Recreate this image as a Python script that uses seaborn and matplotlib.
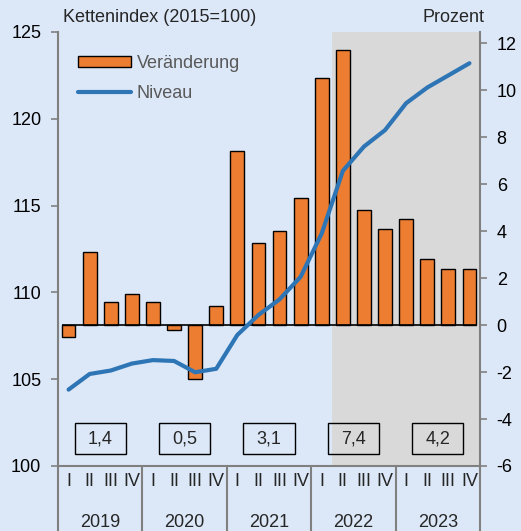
import matplotlib
matplotlib.use('Agg')
import matplotlib.pyplot as plt
import matplotlib.transforms as mtransforms
from matplotlib.patches import Rectangle, Patch
from matplotlib.lines import Line2D
import seaborn as sns
import pandas as pd

years = ['2019', '2020', '2021', '2022', '2023']
quarters = ['I', 'II', 'III', 'IV']
# Veränderung gegenüber Vorjahresquartal in Prozent (rechte Achse)
veraenderung = [-0.5, 3.1, 1.0, 1.3, 1.0, -0.2, -2.3, 0.8, 7.4, 3.5,
                4.0, 5.4, 10.5, 11.7, 4.9, 4.1, 4.5, 2.8, 2.4, 2.4]
# Kettenindex 2015=100 (linke Achse)
niveau = [104.4, 105.3, 105.5, 105.9, 106.1, 106.05, 105.4, 105.6, 107.55, 108.7,
          109.6, 110.9, 113.4, 117.0, 118.4, 119.35, 120.9, 121.8, 122.5, 123.2]
jahresraten = ['1,4', '0,5', '3,1', '7,4', '4,2']

BG = '#DCE8F8'
ORANGE = '#ED7D31'
BLUE = '#2E75B6'
GREY = '#808080'
FS = 13
NARROW = ['Liberation Sans Narrow', 'Liberation Sans', 'DejaVu Sans']

sns.set_theme(style='white')
plt.rcParams['font.family'] = ['Liberation Sans', 'DejaVu Sans']
plt.rcParams['axes.unicode_minus'] = False

df = pd.DataFrame({
    'pos': range(len(veraenderung)),
    'veraenderung': veraenderung,
    'niveau': niveau,
})

fig = plt.figure(figsize=(5.21, 5.31), dpi=100, facecolor=BG)
ax = fig.add_axes([58 / 521, 65 / 531, 422 / 521, 434 / 531], facecolor=BG)
ax2 = ax.twinx()

# shaded area 2022/2023
ax.axvspan(12.5, 19.5, color='#D9D9D9', zorder=0, lw=0)

sns.barplot(data=df, x='pos', y='veraenderung', ax=ax, color=ORANGE,
            saturation=1, edgecolor='black', linewidth=1, width=0.65, zorder=2)
ax.hlines(0, -0.33, 19.33, color='black', lw=1.2, zorder=3)

sns.lineplot(data=df, x='pos', y='niveau', ax=ax2, color=BLUE, linewidth=3)

ax.set_xlim(-0.5, 19.5)
ax.set_ylim(-6, 12.47)
ax2.set_ylim(100, 125)
ax.set_xticks([])
ax2.set_xticks([])
ax.set_xlabel('')
ax.set_ylabel('')
ax2.set_xlabel('')
ax2.set_ylabel('')

# right axis: percent, left axis: index
ax.yaxis.tick_right()
ax.set_yticks(range(-6, 13, 2))
ax.tick_params(axis='y', right=True, left=False, length=5, width=1.2, color=GREY,
               labelsize=FS, pad=7, labelcolor='black')
ax2.yaxis.tick_left()
ax2.set_yticks(range(100, 126, 5))
ax2.tick_params(axis='y', left=True, right=False, length=5, width=1.2, color=GREY,
                labelsize=FS, pad=7, labelcolor='black')

for s in ax2.spines.values():
    s.set_visible(False)
ax.spines['top'].set_visible(False)
for side in ['left', 'right', 'bottom']:
    ax.spines[side].set_color(GREY)
    ax.spines[side].set_linewidth(1.5)

# annual rates boxes
for i, txt in enumerate(jahresraten):
    xc = 1.5 + 4 * i
    ax.add_patch(Rectangle((xc - 1.21, -5.5), 2.42, 1.32, facecolor='none',
                           edgecolor='black', lw=1, zorder=4))
    ax.text(xc, -4.84, txt, ha='center', va='center', fontsize=FS, zorder=5)

# quarter / year labels below the axis
trans = mtransforms.blended_transform_factory(ax.transData, ax.transAxes)
for k in range(len(years) + 1):
    ax.plot([-0.5 + 4 * k] * 2, [0, -0.16], transform=trans, color=GREY,
            lw=1.5, clip_on=False)
for i, yr in enumerate(years):
    for j, q in enumerate(quarters):
        ax.text(4 * i + j, -0.0346, q, transform=trans, ha='center', va='center',
                fontsize=FS, family=NARROW)
    ax.text(4 * i + 1.5, -0.131, yr, transform=trans, ha='center', va='center',
            fontsize=FS, family=NARROW)

fig.text(63 / 521, 1 - 18 / 531, 'Kettenindex (2015=100)', ha='left', va='center',
         fontsize=FS)
fig.text(484 / 521, 1 - 18 / 531, 'Prozent', ha='right', va='center', fontsize=FS)

handles = [Patch(facecolor=ORANGE, edgecolor='black', lw=1),
           Line2D([0], [0], color=BLUE, lw=3)]
leg = ax2.legend(handles, ['Veränderung', 'Niveau'], loc='upper left',
                 bbox_to_anchor=(13 / 422, 1 - 16 / 434), frameon=False,
                 fontsize=FS, handlelength=2.9, handleheight=0.55,
                 handletextpad=0.33, labelspacing=0.7, borderaxespad=0)
for t in leg.get_texts():
    t.set_color('#595959')

fig.savefig('out.png', dpi=100, facecolor=BG)
